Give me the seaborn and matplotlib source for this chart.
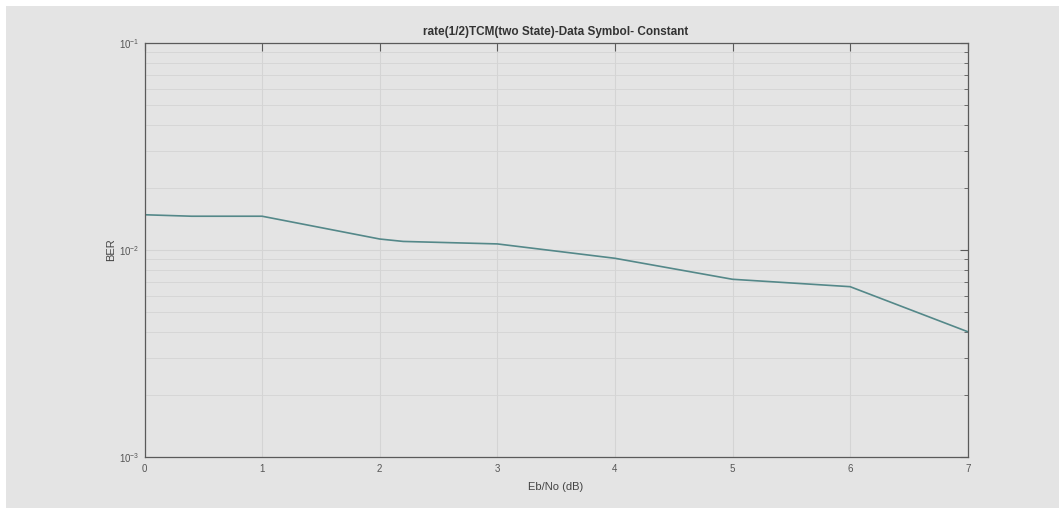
import numpy as np
import pandas as pd
import matplotlib
matplotlib.use('Agg')
import matplotlib.pyplot as plt
import matplotlib.ticker as mticker
from matplotlib.patches import Rectangle
import seaborn as sns


# BER curve (Eb/No in dB)
ebno_db = [0, 0.4, 1, 2, 2.2, 3, 4, 5, 6, 7]
ber = [0.0148, 0.01456, 0.01456, 0.0113, 0.0110, 0.0107, 0.00912, 0.00722, 0.00665, 0.00403]

x_ticks = [0, 1, 2, 3, 4, 5, 6, 7]
title_text = 'rate(1/2)TCM(two State)-Data Symbol- Constant'
x_label = 'Eb/No (dB)'
y_label = 'BER'

BG = '#e4e4e4'
GRID = '#d4d4d4'
AXIS = '#5a5a5a'
LINE = '#548889'

sns.set_style('white')
plt.rcParams['font.family'] = ['Liberation Sans', 'DejaVu Sans']

df = pd.DataFrame({'ebno': ebno_db, 'ber': ber})

fig = plt.figure(figsize=(10.59, 5.08), dpi=100, facecolor='white')
# grey figure panel with a thin white margin at top/left, like the screenshot
fig.patches.append(Rectangle((6 / 1059, 0), 1, 1 - 6 / 508,
                             transform=fig.transFigure, facecolor=BG,
                             edgecolor='none', zorder=-10))

ax = fig.add_axes([144.5 / 1059, 1 - 457 / 508,
                   (967.7 - 144.5) / 1059, (457 - 43) / 508])
ax.set_facecolor(BG)

sns.lineplot(data=df, x='ebno', y='ber', ax=ax, color=LINE, linewidth=1.2)

ax.set_yscale('log')
ax.set_ylim(1e-3, 1e-1)
ax.set_xlim(0, 7)
ax.set_xticks(x_ticks)
ax.yaxis.set_major_locator(mticker.LogLocator(base=10, numticks=5))
ax.yaxis.set_minor_locator(mticker.LogLocator(base=10, subs=np.arange(2, 10), numticks=20))
ax.yaxis.set_minor_formatter(mticker.NullFormatter())

ax.grid(True, which='major', axis='both', color=GRID, linewidth=0.8)
ax.grid(True, which='minor', axis='y', color=GRID, linewidth=0.6)
ax.set_axisbelow(True)

for s in ax.spines.values():
    s.set_color(AXIS)
    s.set_linewidth(0.9)

ax.tick_params(which='both', direction='in', top=True, right=True,
               colors=AXIS, labelsize=7, labelcolor='#555555')
ax.tick_params(which='major', length=6)
ax.tick_params(which='minor', length=3)
ax.tick_params(axis='x', pad=5)

ax.set_title(title_text, fontsize=8.5, fontweight='bold', color='#333333', pad=6)
ax.set_xlabel(x_label, fontsize=8, color='#444444', labelpad=6)
ax.set_ylabel(y_label, fontsize=8, color='#444444', labelpad=2)

fig.savefig('out.png', dpi=100, facecolor=fig.get_facecolor())
